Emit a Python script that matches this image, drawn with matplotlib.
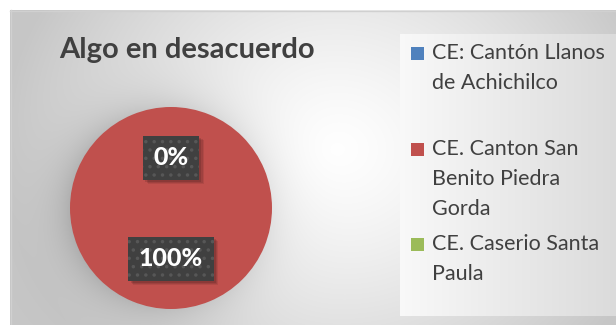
import numpy as np
import matplotlib
matplotlib.use("Agg")
import matplotlib.pyplot as plt
from matplotlib.patches import Rectangle

plt.rcParams['font.family'] = ['Lato', 'DejaVu Sans']
plt.rcParams['hatch.linewidth'] = 1.3

title = "Algo en desacuerdo"
categories = ["CE: Cantón Llanos\nde Achichilco",
              "CE. Canton San\nBenito Piedra\nGorda",
              "CE. Caserio Santa\nPaula"]
values = [0, 100, 0]
colors = ["#4F81BD", "#C0504D", "#9BBB59"]

W, H = 616, 325
fig = plt.figure(figsize=(W / 100, H / 100), dpi=100)

# background canvas in pixel coordinates
bg_ax = fig.add_axes([0, 0, 1, 1])
bg_ax.axis('off')

cx, cy, r = 171, 208, 101
yy, xx = np.mgrid[0:H, 0:W] + 0.5
d = np.hypot((xx - 335) / 1.15, yy - 150)
bg = 1.0 - 0.22 * np.clip(d / 290, 0, 1) ** 1.3
# soft shadow around the pie, a bit heavier to the left
dp = np.hypot(xx - cx, yy - cy) - r + 1
ang = np.arctan2(yy - cy, xx - cx)
weight = 1.0 - 0.35 * np.cos(ang)
halo = np.where(dp > 0, np.exp(-dp / 22.0), 0) * 0.11 * weight
bg = np.clip(bg - halo, 0, 1)
bg[:10, :] = 1.0
bg[:, :10] = 1.0
rgb = np.dstack([bg, bg, bg])
bg_ax.imshow(rgb, extent=(0, W, H, 0), interpolation='bilinear', zorder=0)
bg_ax.plot([10, W], [10.5, 10.5], color='#d0d0d0', lw=1, zorder=1)
bg_ax.plot([10.5, 10.5], [10, H], color='#d0d0d0', lw=1, zorder=1)

# legend panel with horizontal gradient
lx0, lx1, ly0, ly1 = 400, W, 34, 316
grad = np.linspace(0.975, 0.86, 200)[None, :] * np.ones((2, 1))
bg_ax.imshow(np.dstack([grad, grad, grad]), extent=(lx0, lx1, ly1, ly0),
             interpolation='bilinear', zorder=1, aspect='auto')
bg_ax.set_xlim(0, W)
bg_ax.set_ylim(H, 0)

bg_ax.text(187, 50, title, fontsize=21, fontweight='bold', color='#404040',
           ha='center', va='center', zorder=3)

# legend entries
entry_y = [53, 149, 244]
line_h = 30
for cat, col, y0 in zip(categories, colors, entry_y):
    bg_ax.add_patch(Rectangle((411, y0 - 6), 13, 13, facecolor=col,
                              edgecolor='none', zorder=3))
    for i, line in enumerate(cat.split('\n')):
        bg_ax.text(432, y0 + i * line_h, line, fontsize=15.5, color='#404040',
                   ha='left', va='center', zorder=3)

# pie
pie_ax = fig.add_axes([(cx - r) / W, (H - cy - r) / H, 2 * r / W, 2 * r / H])
wedges, _ = pie_ax.pie(values, colors=colors, startangle=90, counterclock=False,
                       radius=1, wedgeprops=dict(linewidth=0))
pie_ax.set_xlim(-1, 1)
pie_ax.set_ylim(-1, 1)
pie_ax.set_aspect('equal')
pie_ax.axis('off')

# data labels, one per distinct position
total = sum(values)
used = set()
labels = []
for w, v in zip(wedges, values):
    mid = np.deg2rad((w.theta1 + w.theta2) / 2)
    pos = (round(0.5 * np.cos(mid), 3), round(0.5 * np.sin(mid), 3))
    if pos in used:
        continue
    used.add(pos)
    t = pie_ax.text(pos[0], pos[1], f"{v / total:.0%}", fontsize=18,
                    fontweight='black', color='white', ha='center', va='center',
                    zorder=5,
                    bbox=dict(boxstyle='square,pad=0.42', facecolor='#404040',
                              edgecolor='#575757', linewidth=0, hatch='..'))
    labels.append(t)

# drop shadows under the label boxes
fig.canvas.draw()
for t in labels:
    bb = t.get_bbox_patch().get_window_extent().transformed(pie_ax.transAxes.inverted())
    for k, a in enumerate([0.12, 0.10, 0.08]):
        off = 0.012 + k * 0.006
        pie_ax.add_patch(Rectangle((bb.x0 + off, bb.y0 - off), bb.width, bb.height,
                                   transform=pie_ax.transAxes, facecolor='black',
                                   alpha=a, edgecolor='none', zorder=4))

fig.savefig("out.png", dpi=100)
